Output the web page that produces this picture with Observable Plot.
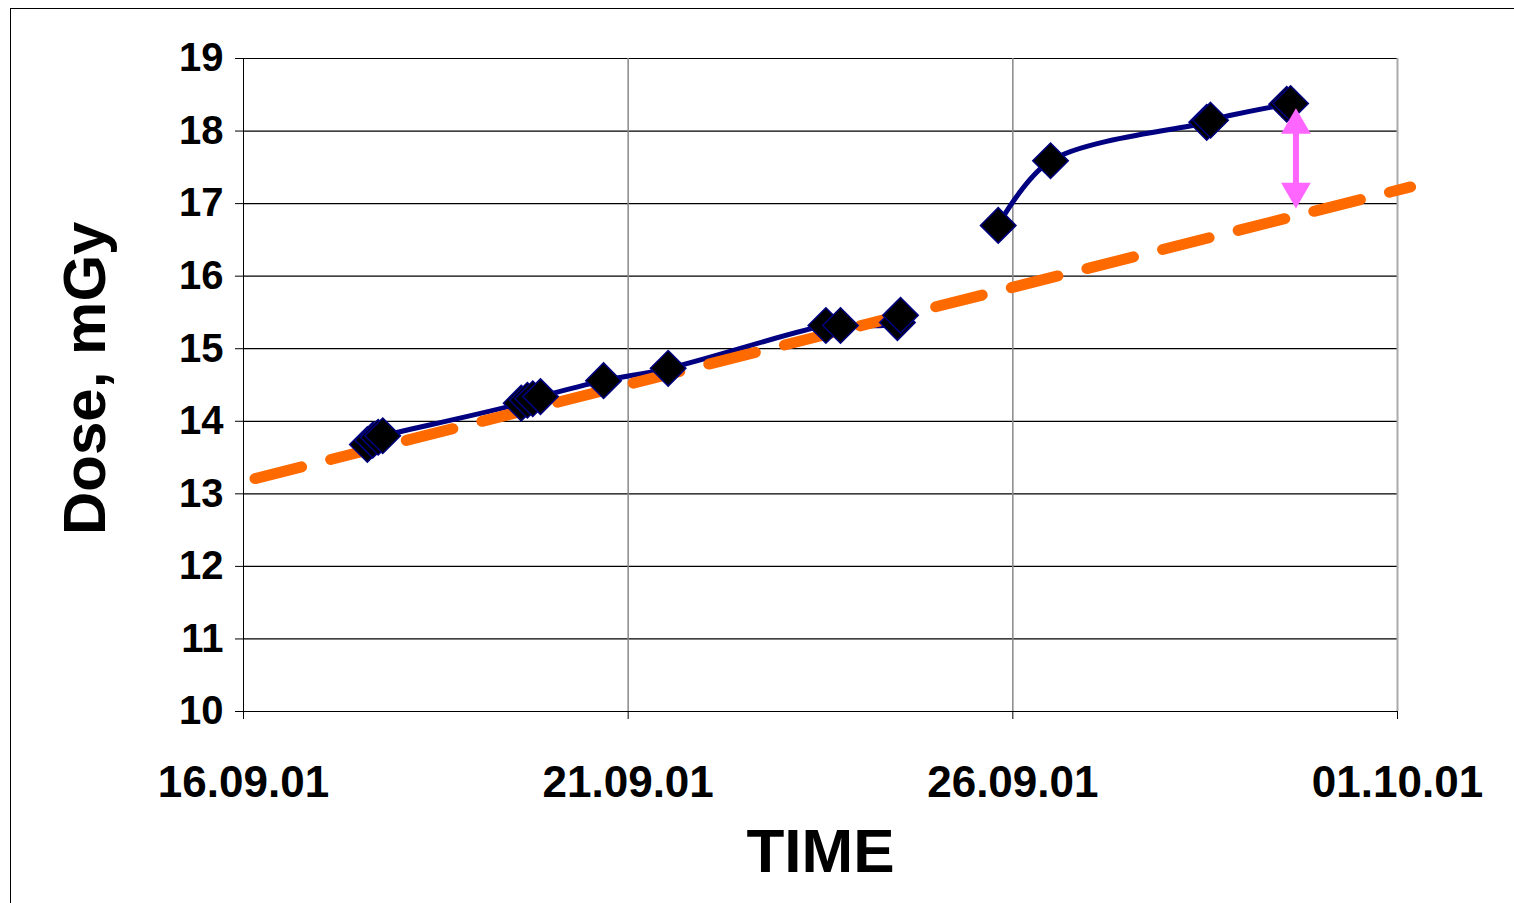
<!DOCTYPE html>
<html><head><meta charset="utf-8">
<script src="https://cdn.jsdelivr.net/npm/d3@7"></script>
<script src="https://cdn.jsdelivr.net/npm/@observablehq/plot@0.6"></script>
<style>
body{margin:0;background:#fff;}
#chart{position:absolute;left:0;top:0;}
#frame{position:absolute;left:10px;top:8px;width:1510px;height:900px;border:1px solid #000;box-sizing:border-box;}
</style></head>
<body><div id="frame"></div><div id="chart"></div>
<script>
// days after 16.09.01
const days  = [1.61,1.68,1.75,1.81, 3.61,3.69,3.76,3.86, 4.68, 5.52, 7.57,7.76, 8.50,8.54, 9.81, 10.49, 12.52,12.57, 13.56,13.61];
const doses = [13.68,13.74,13.78,13.80, 14.25,14.29,14.31,14.34, 14.56, 14.73, 15.32,15.32, 15.36,15.46, 16.70, 17.59, 18.12,18.15, 18.37,18.38];
const series = ["a","a","a","a","a","a","a","a","a","a","a","a","a","a","b","b","b","b","b","b"];
const trendDays  = [0.15, 15.17];
const trendDoses = [13.21, 17.23];
const arrowDay = 13.68, arrowFrom = 18.21, arrowTo = 17.04;
const xTicks = [0, 5, 10, 15];
const xLabels = ["16.09.01", "21.09.01", "26.09.01", "01.10.01"];
const yTicks = [10, 11, 12, 13, 14, 15, 16, 17, 18, 19];

const pts = days.map((d, i) => ({day: d, dose: doses[i], s: series[i]}));
const trend = trendDays.map((d, i) => ({day: d, dose: trendDoses[i]}));
const fmtX = (d) => xLabels[xTicks.indexOf(d)];

const chart = Plot.plot({
  width: 1514, height: 903,
  marginLeft: 243, marginRight: 117, marginTop: 58, marginBottom: 192,
  style: {fontFamily: "Liberation Sans, Arial", fontWeight: "bold", color: "#000", background: "transparent", overflow: "visible"},
  x: {domain: [0, 15], label: null},
  y: {domain: [10, 19], label: null},
  marks: [
    Plot.gridY(yTicks, {stroke: "#000", strokeOpacity: 1, strokeWidth: 1.2}),
    Plot.gridX([5, 10], {stroke: "#888", strokeOpacity: 1, strokeWidth: 1.5}),
    Plot.ruleX([15], {stroke: "#aaa", strokeWidth: 2}),
    Plot.ruleX([0], {stroke: "#000", strokeWidth: 1}),
    Plot.ruleY([10], {stroke: "#000", strokeWidth: 1}),
    Plot.axisX({ticks: xTicks, tickFormat: fmtX, tickSize: 8, tickPadding: 46, fontSize: 44, fontWeight: "bold", label: null}),
    Plot.axisY({ticks: yTicks, tickSize: 8, tickPadding: 12, fontSize: 40, fontWeight: "bold", label: null}),
    Plot.line(pts, {x: "day", y: "dose", z: "s", curve: "catmull-rom", stroke: "#000080", strokeWidth: 5}),
    Plot.line(trend, {x: "day", y: "dose", stroke: "#ff6a00", strokeWidth: 11, strokeDasharray: "48,30", clip: false}),
    Plot.dot(pts, {x: "day", y: "dose", symbol: "diamond2", r: 16, fill: "#000", stroke: "#000080", strokeWidth: 1.5}),
    Plot.ruleX([arrowDay], {y1: arrowFrom - 0.2, y2: arrowTo + 0.2, stroke: "#ff66ff", strokeWidth: 6}),
    Plot.dot([{x: arrowDay, y: arrowFrom - 0.13}], {x: "x", y: "y", symbol: "triangle", r: 11, fill: "#ff66ff"}),
    Plot.dot([{x: arrowDay, y: arrowTo + 0.13}], {x: "x", y: "y", symbol: "triangle", r: 11, fill: "#ff66ff", rotate: 180}),
    Plot.text(["TIME"], {frameAnchor: "bottom", dy: 160, fontSize: 62, fontWeight: "bold"}),
    Plot.text(["Dose, mGy"], {frameAnchor: "left", dx: -158, dy: 150, rotate: -90, fontSize: 60, fontWeight: "bold"})
  ]
});
document.getElementById("chart").append(chart);
</script></body></html>
